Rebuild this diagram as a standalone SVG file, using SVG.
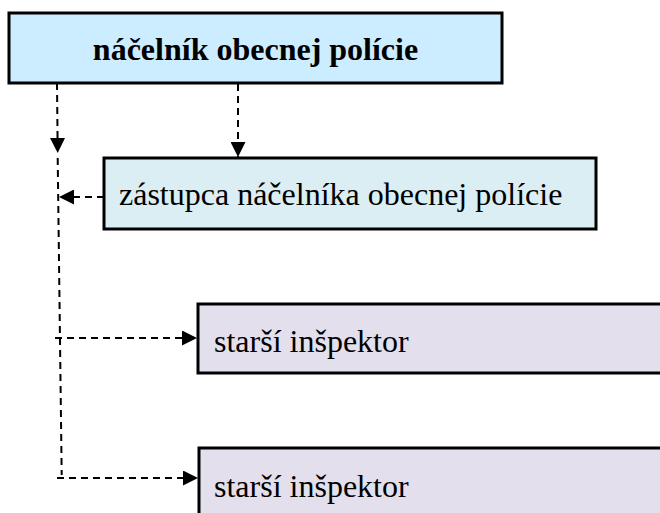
<svg xmlns="http://www.w3.org/2000/svg" width="660" height="513" viewBox="0 0 660 513">
<defs>
<style>
.box{stroke:#000;stroke-width:3}
.t{font-family:"Liberation Serif","Times New Roman",serif;font-size:32px;fill:#000}
.b{font-weight:bold}
.c{fill:none;stroke:#000;stroke-width:2;stroke-dasharray:7,5}
</style>
<marker id="ah" markerWidth="10" markerHeight="10" viewBox="0 0 10 10" refX="10" refY="5" orient="auto" markerUnits="userSpaceOnUse">
<path d="M0,0 L10,5 L0,10 Z" fill="#000"/>
</marker>
<marker id="ah2" markerWidth="15" markerHeight="15" viewBox="0 0 10 10" refX="10" refY="5" orient="auto" markerUnits="userSpaceOnUse">
<path d="M0,0 L10,5 L0,10 Z" fill="#000"/>
</marker>
</defs>
<rect width="660" height="513" fill="#fff"/>
<g id="connectors">
<path class="c" d="M57,83 L57.7,153" marker-end="url(#ah2)"/>
<path class="c" d="M57.7,158 L61.7,475"/>
<path class="c" d="M238,84 L238,157" marker-end="url(#ah2)"/>
<path class="c" d="M104,197 L59,197" marker-end="url(#ah2)"/>
<path class="c" d="M55,338 L197,338" marker-end="url(#ah2)"/>
<path class="c" d="M57,478 L198,478" marker-end="url(#ah2)"/>
</g>
<g id="n1">
<rect class="box" x="9" y="13" width="493" height="70" fill="#CCECFF"/>
<text class="t b" x="255.5" y="60" text-anchor="middle">náčelník obecnej polície</text>
</g>
<g id="n2">
<rect class="box" x="104" y="158" width="492" height="71" fill="#DAEEF3"/>
<text class="t" x="119" y="205">zástupca náčelníka obecnej polície</text>
</g>
<g id="n3">
<rect class="box" x="198" y="304" width="480" height="69" fill="#E4DFEC"/>
<text class="t" x="214" y="352">starší inšpektor</text>
</g>
<g id="n4">
<rect class="box" x="199" y="448" width="480" height="80" fill="#E4DFEC"/>
<text class="t" x="214" y="497">starší inšpektor</text>
</g>
</svg>
